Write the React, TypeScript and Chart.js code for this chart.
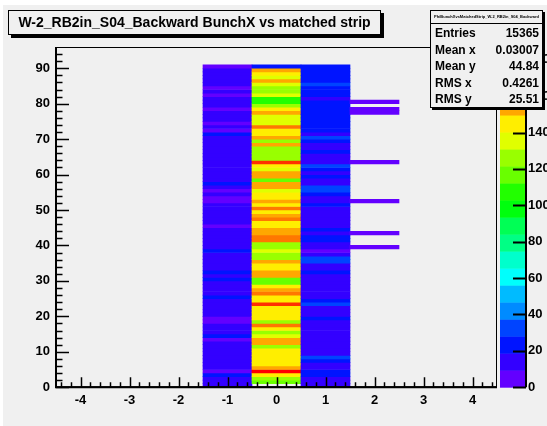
import React, { useEffect, useRef } from 'react';
import { Chart, registerables } from 'chart.js';
Chart.register(...registerables);

// ---------- data ----------
const titleText = 'W-2_RB2in_S04_Backward BunchX vs matched strip';
const statsName = 'PhiBunchXvsMatchedStrip_W-2_RB2in_S04_Backward';
const statsLabels = ['Entries', 'Mean x', 'Mean y', 'RMS x', 'RMS y'];
const statsValues = ['15365', '0.03007', '44.84', '0.4261', '25.51'];

const xTicks = [-4, -3, -2, -1, 0, 1, 2, 3, 4];
const yTicks = [0, 10, 20, 30, 40, 50, 60, 70, 80, 90];
const zTicks = [0, 20, 40, 60, 80, 100, 120, 140, 160, 180];

// matched strip columns (x) ; rows are BunchX bins 0..90
const stripX = [-1, 0, 1];

const countsStripM1 = [
  10, 12, 14, 22, 6, 14, 14, 14, 14, 14,
  14, 14, 14, 7, 22, 14, 14, 14, 6, 6,
  14, 14, 14, 14, 14, 22, 14, 14, 14, 14,
  22, 14, 22, 14, 14, 14, 14, 14, 22, 14,
  14, 14, 14, 14, 14, 6, 14, 14, 14, 14,
  14, 14, 5, 7, 14, 6, 14, 22, 14, 14,
  14, 14, 14, 14, 14, 14, 14, 14, 14, 14,
  14, 22, 6, 14, 6, 14, 14, 14, 6, 14,
  14, 14, 6, 14, 6, 14, 14, 14, 14, 14,
  8,
];

const countsStrip0 = [
  0, 117, 126, 145, 187, 154, 145, 145, 145, 145,
  145, 126, 154, 154, 135, 126, 145, 163, 126, 145,
  145, 145, 145, 172, 145, 145, 163, 154, 145, 117,
  117, 154, 154, 145, 145, 154, 126, 126, 135, 126,
  126, 163, 163, 158, 154, 145, 145, 163, 154, 145,
  163, 145, 154, 145, 145, 135, 154, 154, 117, 154,
  154, 135, 145, 172, 126, 126, 126, 126, 154, 126,
  154, 145, 145, 163, 135, 135, 135, 154, 145, 126,
  107, 107, 135, 126, 126, 135, 154, 135, 145, 154,
  22,
];

const countsStripP1 = [
  10, 14, 14, 22, 22, 14, 14, 22, 32, 14,
  14, 14, 14, 14, 14, 14, 14, 14, 14, 22,
  14, 14, 14, 32, 22, 14, 14, 14, 14, 14,
  14, 14, 22, 14, 14, 32, 32, 14, 6, 14,
  14, 22, 22, 14, 22, 14, 14, 14, 14, 14,
  14, 22, 14, 14, 22, 32, 32, 14, 14, 22,
  14, 22, 32, 14, 14, 14, 22, 14, 14, 22,
  32, 14, 22, 22, 22, 22, 22, 22, 22, 22,
  22, 14, 22, 22, 22, 32, 22, 22, 22, 22,
  22,
];

// sparse strip x = 2
const stripP2Rows = [39, 43, 52, 63, 77, 78, 80];
const stripP2Counts = [4, 3, 4, 3, 4, 3, 3];

const Y_MAX = 96;
const Z_MAX = 187;
const N_CONTOURS = 20;
const N_COLORS = 50;

// ---------- ROOT "pretty" palette ----------
function hueComp(h: number) {
  let x = h;
  while (x > 360) x -= 360;
  while (x < 0) x += 360;
  if (x < 60) return x / 60;
  if (x < 180) return 1;
  if (x < 240) return (240 - x) / 60;
  return 0;
}
function paletteColor(idx: number) {
  const hue = 280 - (idx + 1) * (280 / N_COLORS);
  const r = Math.round(hueComp(hue + 120) * 255);
  const g = Math.round(hueComp(hue) * 255);
  const b = Math.round(hueComp(hue - 120) * 255);
  return `rgb(${r},${g},${b})`;
}
function contourColor(k: number) {
  const idx = Math.floor((k + 0.99) * N_COLORS / N_CONTOURS);
  return paletteColor(Math.min(N_COLORS - 1, idx));
}
function valueColor(v: number) {
  let k = Math.floor(v / (Z_MAX / N_CONTOURS));
  if (k > N_CONTOURS - 1) k = N_CONTOURS - 1;
  if (k < 0) k = 0;
  return contourColor(k);
}

const FONT = '"Liberation Sans", Arial, Helvetica, sans-serif';
const GRAY = '#f0f0f0';

export default function App() {
  const ref = useRef<HTMLCanvasElement | null>(null);

  useEffect(() => {
    document.body.style.margin = '0';
    document.body.style.background = GRAY;
    const canvas = ref.current!;
    const cells: any[] = [];
    const colors: string[] = [];
    const cols = [countsStripM1, countsStrip0, countsStripP1];
    cols.forEach((arr, ci) => {
      arr.forEach((v, j) => {
        if (v > 0) {
          cells.push({ x: stripX[ci], y: [j, j + 1] });
          colors.push(valueColor(v));
        }
      });
    });
    stripP2Rows.forEach((j, i) => {
      cells.push({ x: 2, y: [j, j + 1] });
      colors.push(valueColor(stripP2Counts[i]));
    });

    const decor = {
      id: 'rootDecor',
      beforeDraw(chart: any) {
        const { ctx, width, height } = chart;
        ctx.save();
        ctx.fillStyle = '#ffffff';
        ctx.fillRect(0, 0, width, height);
        ctx.fillStyle = GRAY;
        ctx.fillRect(3, 5, width - 3, height - 5);
        ctx.restore();
      },
      afterDatasetsDraw(chart: any) {
        const { ctx, chartArea: ca, scales } = chart;
        const xs = scales.x, ys = scales.y, zs = scales.z;
        ctx.save();
        ctx.strokeStyle = '#000';
        // frame
        ctx.lineWidth = 1;
        ctx.strokeRect(ca.left + 0.5, ca.top + 0.5, ca.right - ca.left - 1, ca.bottom - ca.top - 1);
        ctx.lineWidth = 2;
        ctx.beginPath();
        ctx.moveTo(ca.left, ca.top);
        ctx.lineTo(ca.left, ca.bottom);
        ctx.lineTo(ca.right, ca.bottom);
        ctx.stroke();
        ctx.lineWidth = 1.5;
        ctx.beginPath();
        // x ticks
        for (let i = -22; i <= 22; i++) {
          const v = i * 0.2;
          const px = Math.round(xs.getPixelForValue(v)) + 0.5;
          const len = i % 5 === 0 ? 10 : 5;
          ctx.moveTo(px, ca.bottom);
          ctx.lineTo(px, ca.bottom - len);
        }
        // y ticks
        for (let i = 0; i <= 48; i++) {
          const v = i * 2;
          if (v >= ys.max) break;
          const py = Math.round(ys.getPixelForValue(v)) + 0.5;
          const len = v % 10 === 0 ? 13 : 6.5;
          ctx.moveTo(ca.left, py);
          ctx.lineTo(ca.left + len, py);
        }
        ctx.stroke();
        // palette
        const pl = ca.right + 3, pr = ca.right + 29;
        for (let k = 0; k < N_CONTOURS; k++) {
          const y0 = zs.getPixelForValue(k * Z_MAX / N_CONTOURS);
          const y1 = zs.getPixelForValue((k + 1) * Z_MAX / N_CONTOURS);
          ctx.fillStyle = contourColor(k);
          ctx.fillRect(pl, y1, pr - pl, y0 - y1 + 0.5);
        }
        ctx.lineWidth = 2;
        ctx.beginPath();
        ctx.moveTo(pr, ca.top);
        ctx.lineTo(pr, ca.bottom);
        zTicks.forEach((v) => {
          const py = Math.round(zs.getPixelForValue(v)) + 0.5;
          ctx.moveTo(pr, py);
          ctx.lineTo(pr - 13, py);
        });
        ctx.stroke();
        ctx.restore();
      },
      afterDraw(chart: any) {
        const { ctx } = chart;
        ctx.save();
        // title box
        const tb = { x: 8, y: 10, w: 373, h: 25 };
        ctx.fillStyle = '#000';
        ctx.fillRect(tb.x + 3, tb.y + 3, tb.w, tb.h);
        ctx.fillStyle = GRAY;
        ctx.fillRect(tb.x, tb.y, tb.w, tb.h);
        ctx.strokeStyle = '#000';
        ctx.lineWidth = 1;
        ctx.strokeRect(tb.x + 0.5, tb.y + 0.5, tb.w - 1, tb.h - 1);
        ctx.fillStyle = '#000';
        ctx.font = `bold 14px ${FONT}`;
        ctx.textAlign = 'center';
        ctx.textBaseline = 'middle';
        ctx.fillText(titleText, tb.x + tb.w / 2, tb.y + tb.h / 2 + 1);
        // stats box
        const sb = { x: 430, y: 10, w: 113, h: 98 };
        ctx.fillStyle = '#000';
        ctx.fillRect(sb.x + 2, sb.y + 2, sb.w, sb.h);
        ctx.fillStyle = GRAY;
        ctx.fillRect(sb.x, sb.y, sb.w, sb.h);
        ctx.strokeRect(sb.x + 0.5, sb.y + 0.5, sb.w - 1, sb.h - 1);
        ctx.beginPath();
        ctx.moveTo(sb.x, sb.y + 13.5);
        ctx.lineTo(sb.x + sb.w, sb.y + 13.5);
        ctx.stroke();
        ctx.fillStyle = '#000';
        ctx.font = `bold 4px ${FONT}`;
        ctx.textAlign = 'center';
        ctx.fillText(statsName, sb.x + sb.w / 2, sb.y + 7);
        ctx.font = `bold 12px ${FONT}`;
        statsLabels.forEach((lab, i) => {
          const cy = sb.y + 24 + i * 16.5;
          ctx.textAlign = 'left';
          ctx.fillText(lab, sb.x + 5, cy);
          ctx.textAlign = 'right';
          ctx.fillText(statsValues[i], sb.x + sb.w - 4, cy);
        });
        ctx.restore();
      },
    };

    const tickFont = { family: FONT, size: 13, weight: 'bold' as const };
    const chart = new Chart(canvas, {
      type: 'bar',
      data: {
        datasets: [
          {
            data: cells,
            backgroundColor: colors,
            borderWidth: 0,
            barPercentage: 1,
            categoryPercentage: 1,
          },
        ],
      },
      options: {
        animation: false,
        responsive: false,
        devicePixelRatio: 1,
        layout: { padding: { top: 47, left: 0, right: 0, bottom: 0 } },
        plugins: { legend: { display: false }, tooltip: { enabled: false }, title: { display: false } },
        scales: {
          x: {
            type: 'linear',
            min: -4.5,
            max: 4.5,
            offset: false,
            grid: { display: false, drawTicks: false },
            border: { display: false },
            afterBuildTicks: (s: any) => { s.ticks = xTicks.map((v) => ({ value: v })); },
            afterFit: (s: any) => { s.height = 426 - 389; },
            ticks: { font: tickFont, color: '#000', padding: 5, maxRotation: 0, autoSkip: false },
          },
          y: {
            type: 'linear',
            min: 0,
            max: Y_MAX,
            grid: { display: false, drawTicks: false },
            border: { display: false },
            afterBuildTicks: (s: any) => { s.ticks = yTicks.map((v) => ({ value: v })); },
            afterFit: (s: any) => { s.width = 56; },
            ticks: { font: tickFont, color: '#000', padding: 6, autoSkip: false },
          },
          z: {
            type: 'linear',
            position: 'right',
            min: 0,
            max: Z_MAX,
            grid: { display: false, drawTicks: false },
            border: { display: false },
            afterBuildTicks: (s: any) => { s.ticks = zTicks.map((v) => ({ value: v })); },
            afterFit: (s: any) => { s.width = 547 - 497; },
            ticks: { font: tickFont, color: '#000', padding: 31, autoSkip: false },
          },
        },
      } as any,
      plugins: [decor],
    });
    return () => chart.destroy();
  }, []);

  return <canvas ref={ref} width={547} height={426} style={{ display: 'block' }} />;
}
